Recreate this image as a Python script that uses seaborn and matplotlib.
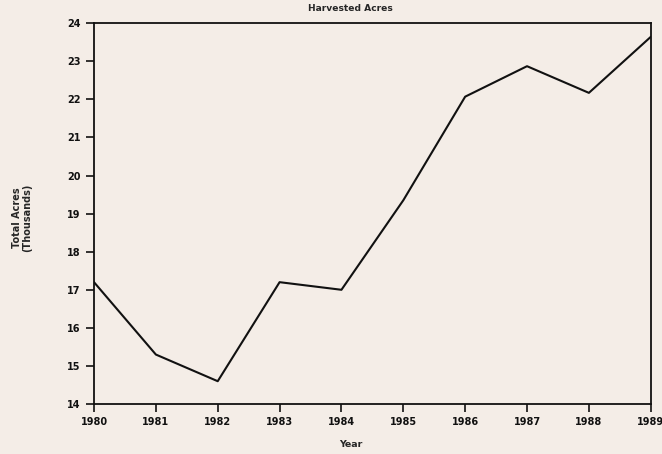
import matplotlib.pyplot as plt
import pandas as pd
import seaborn as sns

# Harvested acres (thousands)
years = [1980, 1981, 1982, 1983, 1984, 1985, 1986, 1987, 1988, 1989]
acres = [17.2, 15.3, 14.6, 17.2, 17.0, 19.35, 22.07, 22.87, 22.17, 23.64]
y_ticks = [14, 15, 16, 17, 18, 19, 20, 21, 22, 23, 24]

df = pd.DataFrame({"Year": years, "Acres": acres})

sns.set_style("ticks")
plt.rcParams['font.family'] = ['DejaVu Sans']
paper = '#f4ede7'

fig = plt.figure(figsize=(6.62, 4.54), dpi=100, facecolor=paper)
ax = fig.add_axes([0.142, 0.110, 0.841, 0.839], facecolor=paper)

sns.lineplot(data=df, x="Year", y="Acres", color='#111111', linewidth=1.5, ax=ax)

ax.set_xlim(1980, 1989)
ax.set_ylim(14, 24)
ax.set_xticks(years)
ax.set_yticks(y_ticks)
ax.tick_params(direction='out', length=6, width=1.2, labelsize=7, colors='#111111')
for lab in ax.get_xticklabels() + ax.get_yticklabels():
    lab.set_fontweight('bold')
for s in ax.spines.values():
    s.set_linewidth(1.3)
    s.set_color('#111111')
    s.set_visible(True)

ax.set_title("Harvested Acres", fontsize=6.6, fontweight='bold', x=0.46, pad=9)
ax.set_xlabel("Year", fontsize=6.8, fontweight='bold')
ax.xaxis.set_label_coords(0.462, -0.095)
ax.set_ylabel("Total Acres\n(Thousands)", fontsize=7, fontweight='bold', linespacing=1.0)
ax.yaxis.set_label_coords(-0.111, 0.49)

fig.savefig('out.png', dpi=100, facecolor=paper)
